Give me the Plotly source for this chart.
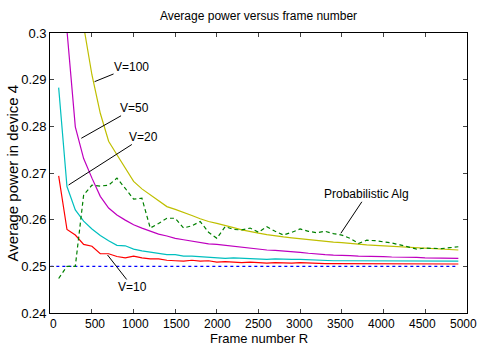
import plotly.graph_objects as go

R = list(range(100, 5000, 100))

v10 = [0.2694, 0.2579, 0.2567, 0.2547, 0.2543, 0.2527, 0.2527, 0.2521, 0.2518, 0.2522,
       0.2518, 0.2516, 0.2516, 0.2513, 0.2512, 0.2511, 0.2513, 0.2511, 0.2512, 0.2509,
       0.2510, 0.2509, 0.2508, 0.2509, 0.2508, 0.2507, 0.2508, 0.2507, 0.2507, 0.2508,
       0.2507, 0.2506, 0.2506, 0.2506, 0.2506, 0.2506, 0.2506, 0.2506, 0.2505, 0.2506,
       0.2505, 0.2505, 0.2505, 0.2505, 0.2505, 0.2505, 0.2505, 0.2505, 0.2505]

v20 = [0.2883, 0.2671, 0.2621, 0.2597, 0.2580, 0.2566, 0.2555, 0.2545, 0.2544, 0.2537,
       0.2533, 0.2530, 0.2528, 0.2525, 0.2525, 0.2522, 0.2522, 0.2521, 0.2519, 0.2519,
       0.2517, 0.2518, 0.2517, 0.2516, 0.2516, 0.2515, 0.2516, 0.2515, 0.2515, 0.2515,
       0.2514, 0.2513, 0.2512, 0.2512, 0.2512, 0.2512, 0.2512, 0.2511, 0.2512, 0.2511,
       0.2511, 0.2511, 0.2511, 0.2511, 0.2511, 0.2511, 0.2511, 0.2511, 0.2511]

v50 = [0.3250, 0.3005, 0.2799, 0.2731, 0.2689, 0.2650, 0.2625, 0.2610, 0.2599, 0.2589,
       0.2582, 0.2575, 0.2569, 0.2565, 0.2560, 0.2557, 0.2554, 0.2552, 0.2548, 0.2547,
       0.2545, 0.2543, 0.2540, 0.2538, 0.2536, 0.2535, 0.2534, 0.2533, 0.2531, 0.2530,
       0.2528, 0.2526, 0.2525, 0.2524, 0.2524, 0.2523, 0.2522, 0.2522, 0.2521, 0.2521,
       0.2520, 0.2520, 0.2519, 0.2519, 0.2518, 0.2518, 0.2518, 0.2517, 0.2517]

v100 = [0.3800, 0.3450, 0.3180, 0.3015, 0.2910, 0.2828, 0.2768, 0.2739, 0.2710, 0.2682,
        0.2666, 0.2653, 0.2641, 0.2628, 0.2622, 0.2616, 0.2609, 0.2602, 0.2596, 0.2592,
        0.2588, 0.2583, 0.2578, 0.2574, 0.2571, 0.2568, 0.2565, 0.2563, 0.2561, 0.2559,
        0.2557, 0.2555, 0.2553, 0.2552, 0.2551, 0.2549, 0.2548, 0.2546, 0.2545, 0.2544,
        0.2543, 0.2542, 0.2541, 0.2540, 0.2539, 0.2538, 0.2537, 0.2536, 0.2535]

prob = [0.2474, 0.2500, 0.2500, 0.2653, 0.2674, 0.2672, 0.2674, 0.2689, 0.2667, 0.2644,
        0.2646, 0.2582, 0.2592, 0.2603, 0.2603, 0.2582, 0.2587, 0.2596, 0.2573, 0.2560,
        0.2585, 0.2579, 0.2578, 0.2582, 0.2573, 0.2585, 0.2575, 0.2567, 0.2573, 0.2580,
        0.2575, 0.2572, 0.2575, 0.2570, 0.2567, 0.2560, 0.2549, 0.2556, 0.2555, 0.2553,
        0.2550, 0.2546, 0.2541, 0.2537, 0.2539, 0.2539, 0.2538, 0.2540, 0.2542]

ref_x = [0, 4900]
ref_y = [0.25, 0.25]

x_ticks = list(range(0, 5001, 500))
x_tick_labels = [str(v) for v in x_ticks]
y_ticks = [0.24, 0.25, 0.26, 0.27, 0.28, 0.29, 0.3]
y_tick_labels = ["0.24", "0.25", "0.26", "0.27", "0.28", "0.29", "0.3"]

FONT = "Liberation Sans, Arial, sans-serif"

# ---- layout geometry (pixels) ----
W_FIG, H_FIG = 490, 345          # slightly wider than window: last tick label clipped by window edge
AX_L, AX_R = 50.0, 467.0          # x-axis span in pixels
AX_T, AX_B = 33.0, 313.0
X_MIN, X_MAX = 0, 5000
PAD_UNITS = 40                    # helper axis extends a bit beyond the data axis
ppu = (AX_R - AX_L) / (X_MAX - X_MIN)
PLOT_L = AX_L - PAD_UNITS * ppu
PLOT_R = AX_R + PAD_UNITS * ppu
PLOT_W = PLOT_R - PLOT_L
PLOT_H = AX_B - AX_T
dom = [(AX_L - PLOT_L) / PLOT_W, (AX_R - PLOT_L) / PLOT_W]

fig = go.Figure()
fig.add_trace(go.Scatter(x=ref_x, y=ref_y, mode="lines",
                         line=dict(color="#0000ff", width=1.2, dash="3px,3px")))
fig.add_trace(go.Scatter(x=R, y=v100, mode="lines", line=dict(color="#bfbf00", width=1.2)))
fig.add_trace(go.Scatter(x=R, y=v50, mode="lines", line=dict(color="#bf00bf", width=1.2)))
fig.add_trace(go.Scatter(x=R, y=v20, mode="lines", line=dict(color="#00bfbf", width=1.2)))
fig.add_trace(go.Scatter(x=R, y=v10, mode="lines", line=dict(color="#ff0000", width=1.2)))
fig.add_trace(go.Scatter(x=R, y=prob, mode="lines",
                         line=dict(color="#008000", width=1.2, dash="4px,3px")))
# empty trace so the helper axis exists
fig.add_trace(go.Scatter(x=[], y=[], xaxis="x2", yaxis="y", mode="lines",
                         hoverinfo="skip"))

ann_font = dict(family=FONT, size=12, color="black")
labels = [
    ("V=100", 531, 0.28957, 37, -15),
    ("V=50", 372, 0.27744, 53, -30),
    ("V=20", 219, 0.26743, 75, -48),
    ("V=10", 687, 0.25243, 25, 32),
    ("Probabilistic Alg", 3489, 0.25708, 26, -39),
]
for txt, x, y, ax, ay in labels:
    fig.add_annotation(x=x, y=y, xref="x", yref="y", text=txt, showarrow=True,
                       arrowhead=0, arrowwidth=1, arrowcolor="black", ax=ax, ay=ay,
                       font=ann_font, borderpad=0)

# x tick labels, positioned through the helper axis (same scale as the data axis)
for v, t in zip(x_ticks, x_tick_labels):
    fig.add_annotation(x=v, xref="x2", yref="paper", y=-(324 - AX_B) / PLOT_H,
                       xanchor="center", yanchor="middle", showarrow=False,
                       text=t, font=dict(family=FONT, size=12, color="black"))

# axis titles
fig.add_annotation(xref="paper", yref="paper", x=0.5, y=-(338.5 - AX_B) / PLOT_H,
                   xanchor="center", yanchor="middle", showarrow=False,
                   text="Frame number R", font=dict(family=FONT, size=13, color="black"))
fig.add_annotation(xref="paper", yref="paper", x=(12 - PLOT_L) / PLOT_W, y=0.5,
                   xanchor="center", yanchor="middle", showarrow=False, textangle=-90,
                   text="Average power in device 4",
                   font=dict(family=FONT, size=15, color="black"))

fig.update_layout(
    width=W_FIG, height=H_FIG,
    margin=dict(l=PLOT_L, r=W_FIG - PLOT_R, t=AX_T, b=H_FIG - AX_B, autoexpand=False),
    paper_bgcolor="white", plot_bgcolor="white",
    showlegend=False,
    font=dict(family=FONT, size=12, color="black"),
    title=dict(text="Average power versus frame number", xref="paper", x=0.5,
               xanchor="center", y=1 - 16 / H_FIG, yanchor="middle",
               font=dict(family=FONT, size=12)),
    xaxis=dict(domain=dom, range=[X_MIN, X_MAX], tickvals=x_ticks,
               showticklabels=False, ticks="inside", ticklen=4,
               showline=True, linecolor="black", linewidth=1.3, mirror="ticks",
               showgrid=False, zeroline=False, automargin=False),
    xaxis2=dict(domain=[0, 1], overlaying="x", anchor="y", side="bottom",
                range=[X_MIN - PAD_UNITS, X_MAX + PAD_UNITS],
                showticklabels=False, ticks="",
                showline=False, showgrid=False, zeroline=False, automargin=False),
    yaxis=dict(anchor="x", range=[0.24, 0.3], tickvals=y_ticks, ticktext=y_tick_labels,
               ticks="inside", ticklen=4,
               showline=True, linecolor="black", linewidth=1.3, mirror="ticks",
               showgrid=False, zeroline=False, ticklabeloverflow="allow",
               automargin=False, tickfont=dict(family=FONT, size=13)),
)

fig.write_html("out.html", config={"displayModeBar": False},
               post_script="document.body.style.margin='0';"
                           "document.body.style.overflow='hidden';")
